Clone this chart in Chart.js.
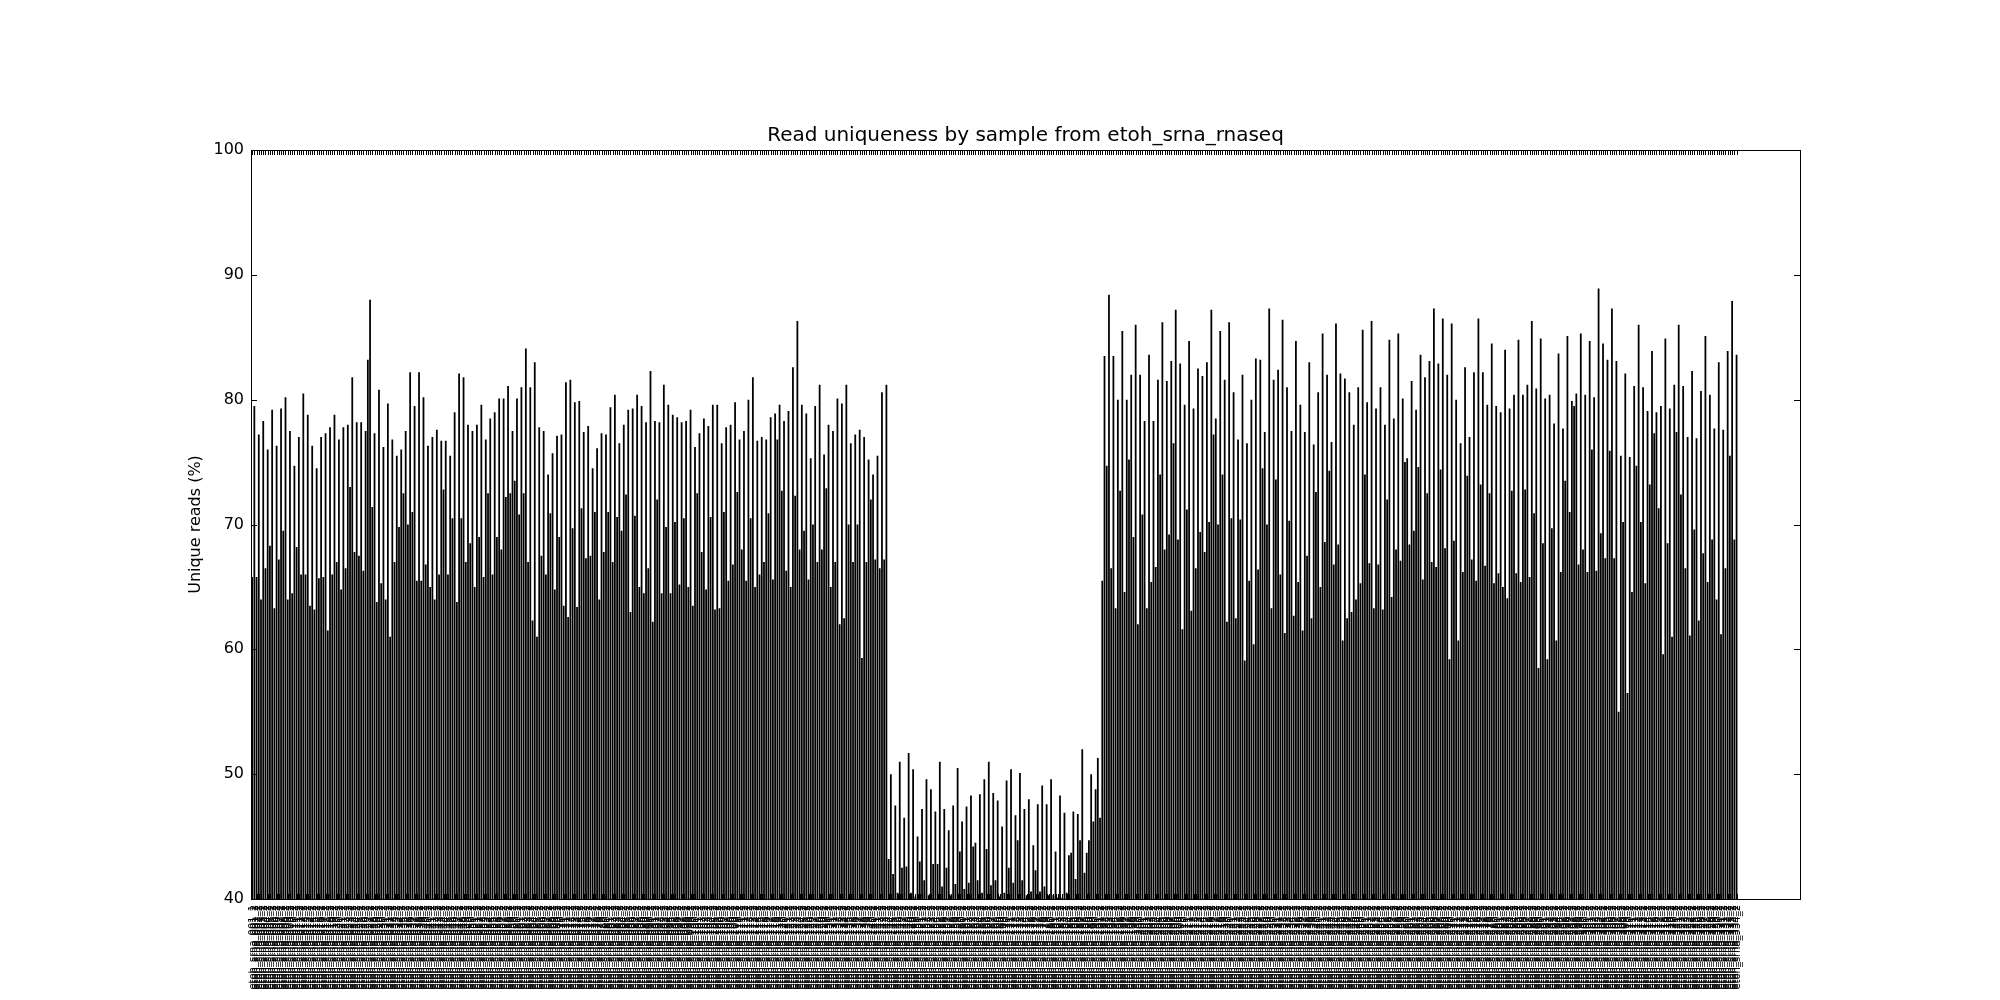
<!DOCTYPE html>
<html>
<head>
<meta charset="utf-8">
<script src="https://cdn.jsdelivr.net/npm/chart.js@4.4.1/dist/chart.umd.min.js"></script>
<style>
  html, body { margin: 0; padding: 0; background: #fff; }
  canvas { display: block; }
</style>
</head>
<body>
<canvas id="c" width="2000" height="1000"></canvas>
<script>
// ---- Data (percent unique reads) ----
// Section 1 samples
const darkBars1 = [
65.8, 65.8, 64.0, 66.5, 68.3, 63.3, 67.2, 69.5, 64.0, 64.5,
68.2, 66.0, 66.0, 63.5, 63.2, 65.7, 65.8, 61.5, 66.0, 67.0,
64.8, 66.5, 73.0, 67.8, 67.5, 66.3, 83.2, 71.4, 63.8, 65.3,
64.0, 61.0, 67.0, 69.8, 72.5, 70.0, 71.0, 65.5, 65.5, 66.8,
65.0, 64.0, 66.0, 72.8, 66.0, 70.5, 63.8, 70.5, 67.0, 68.5,
65.0, 69.0, 65.8, 72.5, 66.0, 69.0, 68.0, 72.2, 72.5, 73.5,
70.8, 72.5, 67.0, 62.3, 61.0, 67.5, 66.0, 70.9, 64.8, 69.0,
63.5, 62.6, 69.7, 63.4, 71.3, 67.3, 67.5, 71.0, 64.0, 67.8,
71.0, 67.0, 70.6, 69.5, 72.4, 63.0, 70.7, 65.0, 64.5, 66.5,
62.2, 72.0, 64.5, 69.8, 64.5, 70.2, 65.2, 70.5, 65.0, 63.5,
72.5, 67.8, 64.8, 70.6, 63.2, 63.3, 71.0, 65.5, 66.8, 72.6,
68.0, 65.5, 70.5, 65.0, 66.0, 67.0, 70.9, 65.6, 76.8, 72.7,
66.3, 65.0, 72.3, 68.0, 69.5, 65.6, 70.0, 67.0, 68.0, 72.9,
65.0, 67.0, 62.0, 62.5, 70.0, 67.0, 70.0, 59.3, 67.0, 72.0,
67.2, 66.5, 67.2
];
const openBars1 = [
79.5, 77.2, 78.3, 76.0, 79.2, 76.3, 79.3, 80.2, 77.5, 74.7,
77.0, 80.5, 78.8, 76.3, 74.5, 77.0, 77.3, 77.8, 78.8, 76.8,
77.8, 78.0, 81.8, 78.2, 78.2, 77.5, 88.0, 77.3, 80.8, 76.2,
79.7, 76.8, 75.5, 76.0, 77.5, 82.2, 79.5, 82.2, 80.2, 76.3,
77.0, 77.6, 76.7, 76.7, 75.5, 79.0, 82.1, 81.8, 78.0, 77.5,
78.0, 79.6, 76.8, 78.5, 79.0, 80.1, 80.1, 81.1, 77.5, 80.1,
81.0, 84.1, 81.0, 83.0, 77.8, 77.5, 74.0, 75.7, 77.1, 77.2,
81.4, 81.6, 79.8, 79.9, 77.4, 77.9, 74.5, 76.1, 77.3, 77.2,
79.4, 80.4, 76.5, 78.0, 79.2, 79.3, 80.4, 79.5, 78.2, 82.3,
78.3, 78.2, 81.2, 79.6, 78.8, 78.6, 78.2, 78.3, 79.2, 76.2,
77.3, 78.5, 77.9, 79.6, 79.6, 76.5, 77.8, 78.0, 79.8, 76.8,
77.5, 80.0, 81.8, 76.7, 77.0, 76.8, 78.6, 78.9, 79.6, 78.3,
79.1, 82.6, 86.3, 79.6, 78.9, 75.3, 79.5, 81.2, 75.6, 78.0,
77.5, 80.1, 79.7, 81.2, 76.5, 77.2, 77.6, 77.0, 75.2, 74.0,
75.5, 80.6, 81.2
];
// Section 2 samples
const darkBars2 = [
43.2, 42.0, 40.5, 42.5, 42.6, 40.5, 40.2, 43.0, 41.5, 40.3,
42.8, 42.8, 41.0, 42.5, 40.3, 41.2, 43.8, 40.8, 41.3, 44.2,
41.5, 40.5, 44.0, 41.1, 41.5, 40.2, 40.5, 42.5, 41.3, 44.7,
41.5, 40.3, 40.6, 42.3, 40.6, 41.0, 40.3, 40.3, 40.1, 40.1,
40.5, 43.7, 41.6, 44.7, 42.1, 44.7, 46.2, 51.3
];
const openBars2 = [
50.0, 47.5, 51.0, 46.5, 51.7, 50.4, 45.0, 47.2, 49.6, 48.8,
47.0, 51.0, 47.2, 45.5, 47.5, 50.5, 46.2, 47.4, 48.3, 44.5,
48.4, 49.6, 51.0, 48.5, 47.9, 45.8, 49.5, 50.4, 46.7, 50.1,
47.2, 48.0, 44.3, 47.6, 49.1, 47.6, 49.6, 43.8, 48.3, 46.9,
43.5, 47.0, 46.8, 52.0, 43.7, 50.0, 48.8, 46.5
];
// Section 3 samples
const darkBars3 = [
65.5, 74.7, 66.5, 63.3, 72.7, 64.6, 75.2, 69.0, 62.0, 70.8,
63.3, 65.4, 66.6, 74.0, 68.0, 69.2, 76.5, 68.8, 61.6, 71.2,
63.1, 66.5, 69.4, 67.8, 70.2, 77.2, 70.0, 74.0, 62.2, 70.5,
62.5, 70.4, 59.1, 65.5, 60.4, 66.4, 74.5, 70.0, 63.3, 73.6,
66.0, 61.3, 70.3, 62.7, 65.4, 61.5, 67.5, 62.5, 72.6, 65.0,
68.6, 74.3, 66.8, 68.4, 60.7, 62.5, 63.0, 64.0, 65.3, 74.0,
66.9, 63.3, 66.8, 63.2, 72.0, 64.2, 68.0, 67.1, 75.0, 68.4,
69.5, 74.6, 65.6, 72.5, 67.0, 66.6, 74.4, 68.1, 59.2, 68.7,
60.7, 66.2, 73.9, 67.2, 65.5, 73.2, 66.7, 72.5, 65.3, 66.1,
65.0, 64.1, 72.7, 66.1, 65.4, 72.8, 65.8, 70.9, 58.5, 68.5,
59.2, 69.7, 60.7, 66.2, 73.5, 71.0, 79.5, 66.8, 68.0, 66.2,
76.0, 66.3, 69.3, 67.3, 75.9, 67.3, 55.0, 70.2, 56.5, 64.6,
74.7, 70.2, 65.3, 73.2, 77.3, 71.3, 59.6, 68.5, 61.0, 77.4,
72.4, 66.5, 61.1, 69.6, 62.3, 67.7, 65.4, 68.8, 64.0, 61.2,
66.5, 75.5, 68.8
];
const openBars3 = [
83.5, 88.4, 83.5, 80.0, 85.5, 80.0, 82.0, 86.0, 82.0, 78.3,
83.6, 78.3, 81.6, 86.2, 81.5, 83.1, 87.2, 82.9, 79.6, 84.7,
79.3, 82.5, 81.9, 83.0, 87.2, 78.5, 85.5, 81.6, 86.2, 80.6,
76.8, 82.0, 76.5, 80.0, 83.3, 83.2, 77.4, 87.3, 81.6, 82.4,
86.4, 81.0, 77.5, 84.7, 79.6, 77.4, 83.0, 76.4, 80.6, 85.3,
82.0, 76.6, 86.1, 82.1, 81.7, 80.6, 78.0, 81.0, 85.6, 79.8,
86.3, 79.3, 81.0, 78.0, 84.8, 78.5, 85.3, 80.1, 75.3, 81.5, 79.2, 83.6,
81.8, 83.1, 87.3, 82.9, 86.5, 82.0, 86.1, 80.0, 76.5, 82.6,
77.0, 82.2, 86.5, 82.2, 79.6, 84.5, 79.5, 79.0, 84.0, 79.3,
80.4, 84.8, 80.4, 81.2, 86.3, 80.9, 84.9, 80.1, 80.4, 78.1,
83.7, 77.7, 85.1, 79.9, 80.5, 85.3, 80.4, 84.7, 80.2, 88.9,
84.5, 83.2, 87.3, 83.1, 75.5, 82.1, 75.4, 81.1, 86.0, 81.0,
79.1, 83.9, 79.0, 79.5, 84.9, 79.3, 81.2, 86.0, 81.1, 77.0,
82.3, 76.9, 80.7, 85.1, 80.4, 77.7, 83.0, 77.6, 83.9, 87.9,
83.6
];
const yTicks = [40, 50, 60, 70, 80, 90, 100];
const titleText = 'Read uniqueness by sample from etoh_srna_rnaseq';
const yTitle = 'Unique reads (%)';
const emptySlots = 14; // unused room at the right end of the x range

// ---- Build chart data ----
const darkBars = darkBars1.concat(darkBars2, darkBars3);
const openBars = openBars1.concat(openBars2, openBars3);
const nSamples = darkBars.length;
const sampleNames = [];
for (let i = 0; i < nSamples; i++) {
  const id = 'etoh_srna_' + String(i + 1).padStart(3, '0');
  sampleNames.push([id + '_1', id + '_2']); // one label per bar of the pair
}
const labels = sampleNames.concat(new Array(emptySlots).fill(''));
const pad = new Array(emptySlots).fill(null);

Chart.defaults.font.family = 'DejaVu Sans';
Chart.defaults.color = '#000';

const frame = {
  id: 'frame',
  afterDatasetsDraw(chart) {
    const ctx = chart.ctx, a = chart.chartArea;
    ctx.save();
    ctx.strokeStyle = '#000';
    ctx.lineWidth = 1;
    ctx.beginPath();
    chart.data.datasets.forEach((ds, di) => {
      const meta = chart.getDatasetMeta(di);
      meta.data.forEach((el, i) => {
        if (ds.data[i] === null || ds.data[i] === undefined) return;
        const x = Math.round(el.x) + 0.5;
        ctx.moveTo(x, a.top); ctx.lineTo(x, a.top + 5);
        ctx.moveTo(x, a.bottom); ctx.lineTo(x, a.bottom - 5);
      });
    });
    const ys = chart.scales.y;
    yTicks.forEach(v => {
      const y = Math.round(ys.getPixelForValue(v)) + 0.5;
      ctx.moveTo(a.left, y); ctx.lineTo(a.left + 6, y);
      ctx.moveTo(a.right, y); ctx.lineTo(a.right - 6, y);
    });
    ctx.stroke();
    ctx.strokeRect(Math.round(a.left) + 0.5, Math.round(a.top) + 0.5,
                   Math.round(a.right - a.left), Math.round(a.bottom - a.top));
    // chart title, centred over the plotting area
    ctx.fillStyle = '#000';
    ctx.font = '20px "DejaVu Sans"';
    ctx.textAlign = 'center';
    ctx.textBaseline = 'middle';
    ctx.fillText(titleText, (a.left + a.right) / 2, a.top - 14);
    ctx.restore();
  }
};

new Chart(document.getElementById('c'), {
  type: 'bar',
  data: {
    labels: labels,
    datasets: [
      {
        label: 'Unique reads A',
        data: darkBars.concat(pad),
        backgroundColor: '#000',
        borderWidth: 0,
        categoryPercentage: 1.0,
        barPercentage: 0.8
      },
      {
        label: 'Unique reads B',
        data: openBars.concat(pad),
        backgroundColor: '#000',
        borderWidth: 0,
        categoryPercentage: 1.0,
        barPercentage: 0.8
      }
    ]
  },
  options: {
    responsive: false,
    devicePixelRatio: 1,
    animation: false,
    layout: { padding: { left: 182, right: 200, top: 150, bottom: 0 } },
    plugins: {
      legend: { display: false },
      tooltip: { enabled: false },
      title: { display: false }
    },
    scales: {
      x: {
        type: 'category',
        offset: true,
        grid: { display: false, drawTicks: false },
        border: { display: false },
        ticks: {
          autoSkip: false,
          minRotation: 90,
          maxRotation: 90,
          padding: 6,
          color: '#000',
          font: { size: 10, lineHeight: 0.222 }
        },
        afterFit(s) { s.height = 101; }
      },
      y: {
        min: 40,
        max: 100,
        grid: { display: false, drawTicks: false },
        border: { display: false },
        afterBuildTicks(s) { s.ticks = yTicks.map(v => ({ value: v })); },
        ticks: { padding: 7, color: '#000', font: { size: 16 } },
        title: {
          display: true,
          text: yTitle,
          color: '#000',
          font: { size: 16 },
          padding: { top: 4, bottom: 4 }
        },
        afterFit(s) { s.width = 69; }
      }
    }
  },
  plugins: [frame]
});
</script>
</body>
</html>
